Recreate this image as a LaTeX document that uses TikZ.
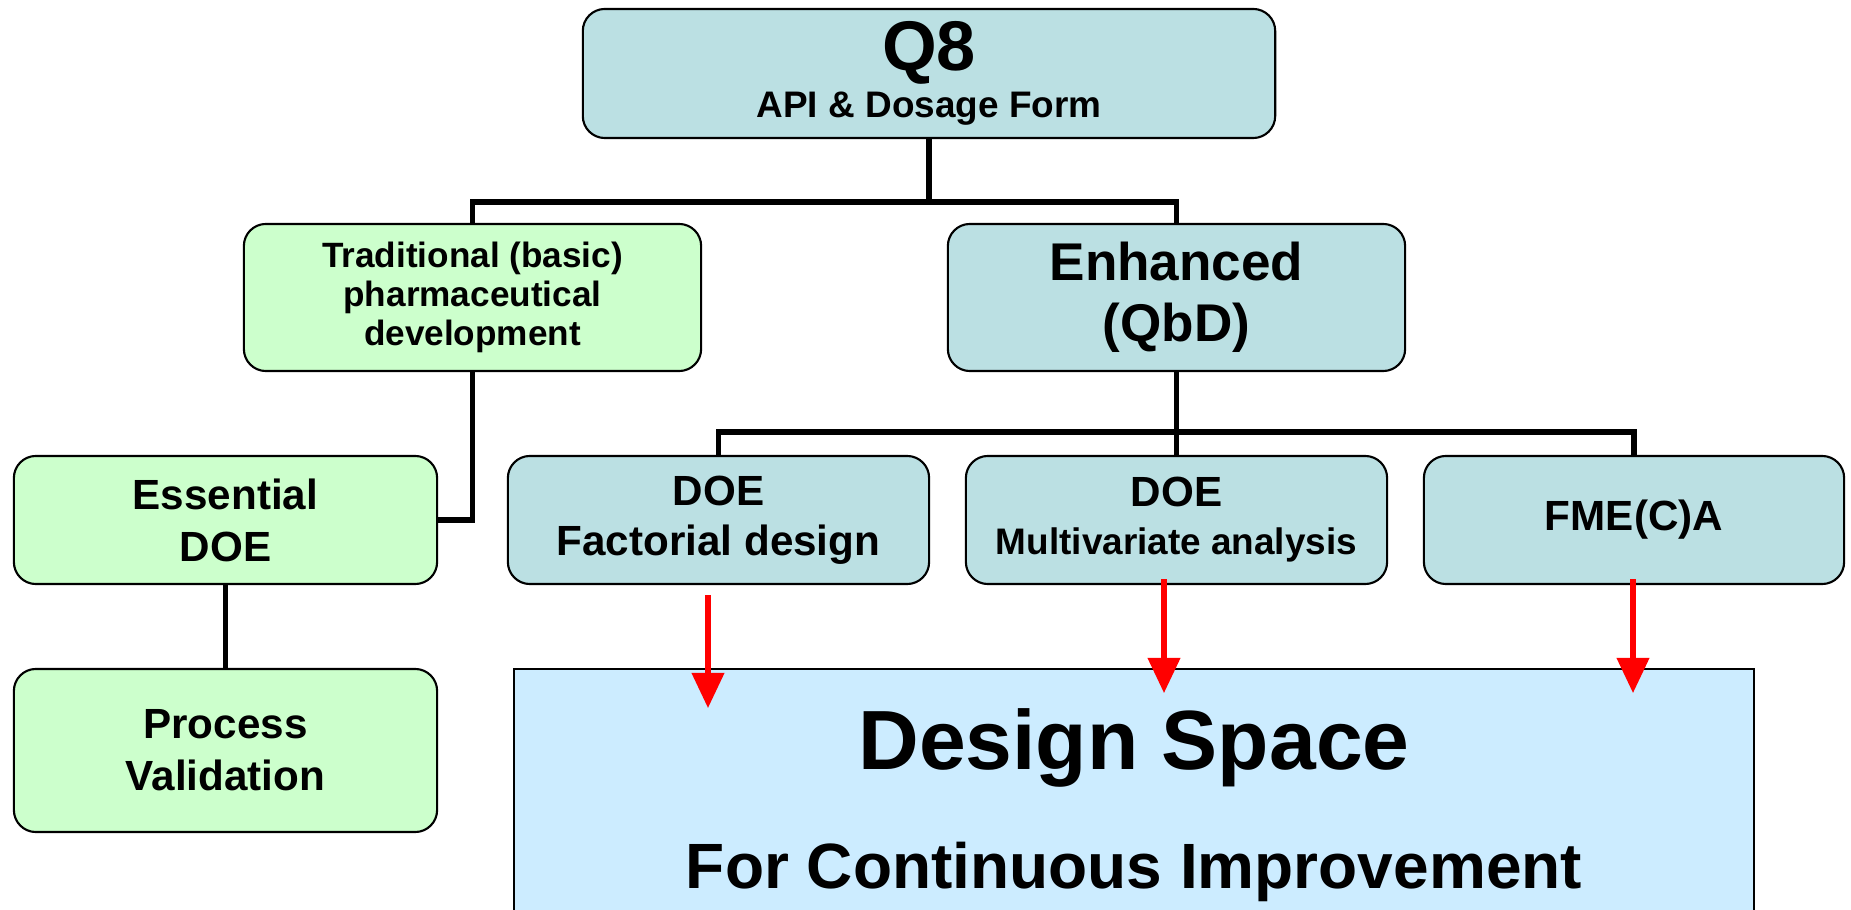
\documentclass[tikz,border=0pt]{standalone}
\usepackage{fontspec}
\setmainfont{Liberation Sans}
\usetikzlibrary{arrows.meta}
\definecolor{tealbox}{HTML}{BBE0E3}
\definecolor{greenbox}{HTML}{CCFFCC}
\definecolor{spacebox}{HTML}{CCECFF}
\newcommand{\fsize}[2]{\fontsize{#1}{#2}\selectfont}
\tikzset{
  box/.style={draw=black, line width=0.6pt, rounded corners=0.22cm, inner sep=0pt, align=center},
  qbox/.style={box, fill=tealbox},
  gbox/.style={box, fill=greenbox},
  link/.style={black, line width=1.5pt},
  flow/.style={red, line width=1.5pt, -{Triangle[length=10pt,width=9pt]}},
}

\begin{document}
\begin{tikzpicture}[x=0.01cm, y=-0.01cm]
      \clip (0,0) rectangle (1851,910);

      % top level
      \node[qbox, minimum width=6.92cm, minimum height=1.29cm, font=\bfseries\fsize{10.5}{13.4}] (q8) at (929,73.5)
        {{\fsize{20}{20}Q8}\\API \& Dosage Form};

      % second level
      \node[gbox, minimum width=4.57cm, minimum height=1.47cm, font=\bfseries\fsize{10}{11.1}] (trad) at (472.5,297.5)
        {Traditional (basic)\\pharmaceutical\\development};
      \node[qbox, minimum width=4.57cm, minimum height=1.47cm, font=\bfseries\fsize{15.1}{17.2}] (enh) at (1176.5,297.5)
        {Enhanced\\(QbD)};

      % third level
      \node[gbox, minimum width=4.23cm, minimum height=1.28cm, font=\bfseries\fsize{12}{14.8}] (ess) at (225.5,520)
        {Essential\\DOE};
      \node[qbox, minimum width=4.21cm, minimum height=1.28cm, font=\bfseries\fsize{12}{14.2}] (fac) at (718.5,520)
        {DOE\\Factorial design};
      \node[qbox, minimum width=4.21cm, minimum height=1.28cm, font=\bfseries\fsize{10.5}{13.7}] (multi) at (1176.5,520)
        {{\fsize{12}{12}DOE}\\Multivariate analysis};
      \node[qbox, minimum width=4.20cm, minimum height=1.28cm, font=\bfseries\fsize{12}{14.8}] (fmeca) at (1634,520)
        {FME(C)A};

      % bottom
      \node[gbox, minimum width=4.23cm, minimum height=1.63cm, font=\bfseries\fsize{12}{14.8}] (proc) at (225.5,750.5)
        {Process\\Validation};
      \node[draw=black, line width=0.6pt, fill=spacebox, inner sep=0pt, align=center,
            minimum width=12.40cm, minimum height=2.72cm, font=\bfseries\fsize{18.2}{34}] (space) at (1134,805)
        {{\fsize{23.9}{23.9}Design Space}\\For Continuous Improvement};

      % connectors
      \draw[link] (q8.south) -- ++(0,63) coordinate (b1);
      \draw[link] (trad.north) |- (b1) -| (enh.north);
      \draw[link] (trad.south) |- (ess.east);
      \draw[link] (ess.south) -- (proc.north);
      \draw[link] (enh.south) -- ++(0,60) coordinate (b2);
      \draw[link] (fac.north) |- (b2) -| (fmeca.north);
      \draw[link] (b2) -- (multi.north);

      % red arrows
      \draw[flow] ([shift={(-10.5,10)}]fac.south) -- ++(0,113);
      \draw[flow] ([shift={(-12.5,-6)}]multi.south) -- ++(0,114);
      \draw[flow] ([shift={(-1,-6)}]fmeca.south) -- ++(0,114);

    \end{tikzpicture}
\end{document}
